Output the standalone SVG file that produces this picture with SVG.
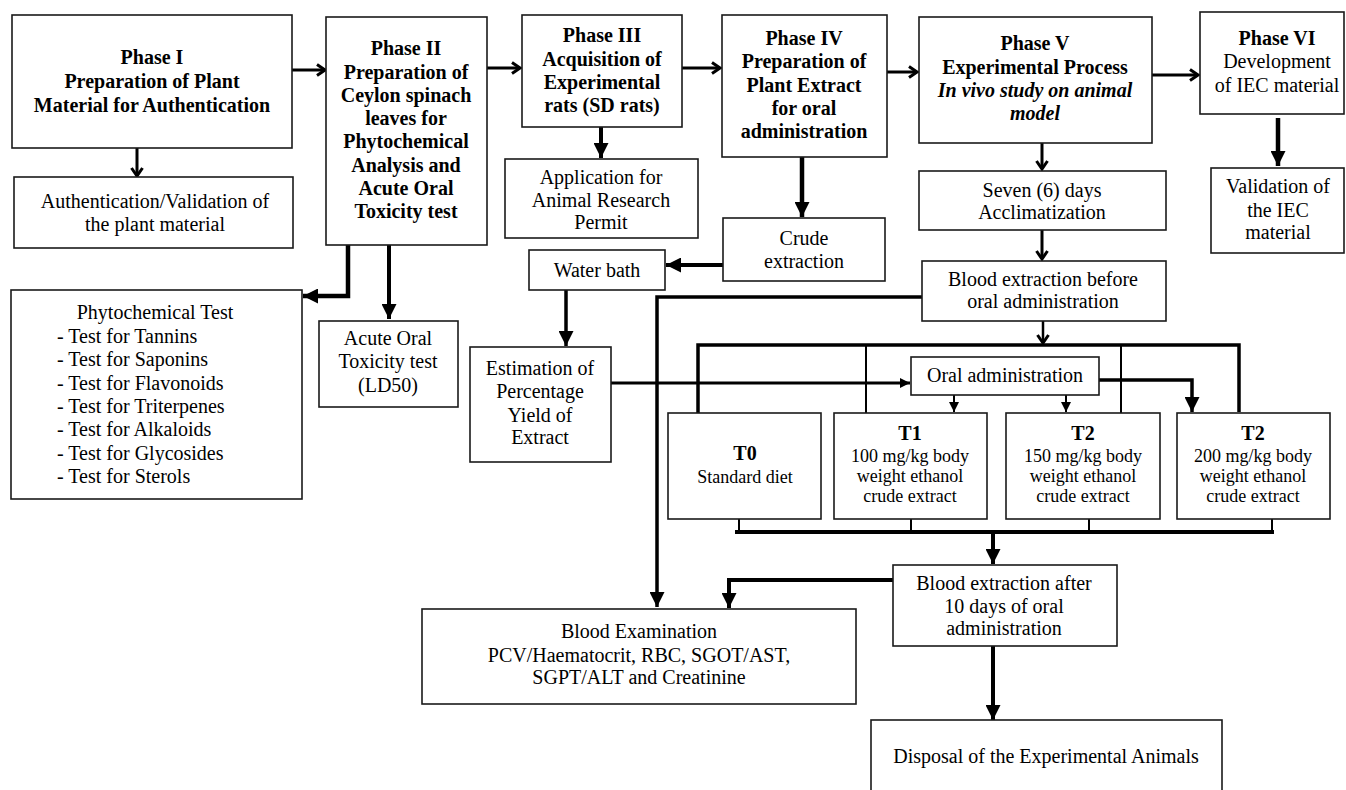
<svg xmlns="http://www.w3.org/2000/svg" width="1346" height="790" viewBox="0 0 1346 790">
<style>
.box{fill:#fff;stroke:#1a1a1a;stroke-width:1.6}
text{font-family:"Liberation Serif","Times New Roman",serif;fill:#000;text-anchor:middle}
.b{font-weight:bold;font-size:20px}
.r{font-size:20px}
.s{font-size:18px}
.bi{font-weight:bold;font-style:italic;font-size:20px}
.c{fill:none;stroke:#000}
.l{text-anchor:start}
</style>
<defs>
<marker id="chev" viewBox="0 0 12 14" refX="10" refY="7" markerWidth="12" markerHeight="14" markerUnits="userSpaceOnUse" orient="auto"><path d="M2,1.5 L10,7 L2,12.5" fill="none" stroke="#000" stroke-width="3"/></marker>
<marker id="tri" viewBox="0 0 10 10" refX="10" refY="5" markerWidth="15" markerHeight="15" markerUnits="userSpaceOnUse" orient="auto"><path d="M0,0 L10,5 L0,10 z" fill="#000"/></marker>
<marker id="tris" viewBox="0 0 10 10" refX="10" refY="5" markerWidth="10" markerHeight="10" markerUnits="userSpaceOnUse" orient="auto"><path d="M0,0 L10,5 L0,10 z" fill="#000"/></marker>
</defs>
<rect width="1346" height="790" fill="#fff"/>

<g id="connectors">
<line class="c" x1="292" y1="70" x2="325" y2="70" stroke-width="3" marker-end="url(#chev)"/>
<line class="c" x1="487" y1="68" x2="520" y2="68" stroke-width="3" marker-end="url(#chev)"/>
<line class="c" x1="682" y1="68" x2="720" y2="68" stroke-width="3" marker-end="url(#chev)"/>
<line class="c" x1="887" y1="72" x2="917" y2="72" stroke-width="3" marker-end="url(#chev)"/>
<line class="c" x1="1152" y1="75" x2="1198" y2="75" stroke-width="3" marker-end="url(#chev)"/>
<line class="c" x1="137" y1="148" x2="137" y2="176" stroke-width="3" marker-end="url(#chev)"/>
<line class="c" x1="601" y1="127" x2="601" y2="158" stroke-width="4" marker-end="url(#tri)"/>
<line class="c" x1="802" y1="157" x2="802" y2="217" stroke-width="4.5" marker-end="url(#tri)"/>
<line class="c" x1="1278" y1="118" x2="1278" y2="166" stroke-width="4.5" marker-end="url(#tri)"/>
<line class="c" x1="1042" y1="143" x2="1042" y2="169" stroke-width="3" marker-end="url(#chev)"/>
<line class="c" x1="1042" y1="230" x2="1042" y2="259" stroke-width="3" marker-end="url(#chev)"/>
<line class="c" x1="723" y1="265" x2="666" y2="265" stroke-width="4" marker-end="url(#tri)"/>
<line class="c" x1="566" y1="290" x2="566" y2="346" stroke-width="3.5" marker-end="url(#tri)"/>
<path class="c" d="M348,245 V296 H303" stroke-width="4.5" marker-end="url(#tri)"/>
<line class="c" x1="389" y1="245" x2="389" y2="319" stroke-width="4" marker-end="url(#tri)"/>
<path class="c" d="M922,297 H657 V607" stroke-width="3.5" marker-end="url(#tri)"/>
<line class="c" x1="1043" y1="321" x2="1043" y2="343" stroke-width="2.5" marker-end="url(#chev)"/>
<path class="c" d="M698,413 V345 H1239 V412" stroke-width="3.5"/>
<line class="c" x1="866" y1="345" x2="866" y2="413" stroke-width="2"/>
<line class="c" x1="1121" y1="345" x2="1121" y2="413" stroke-width="2"/>
<line class="c" x1="611" y1="383" x2="910" y2="383" stroke-width="3" marker-end="url(#tris)"/>
<line class="c" x1="954" y1="395" x2="954" y2="412" stroke-width="2" marker-end="url(#tris)"/>
<line class="c" x1="1066" y1="395" x2="1066" y2="412" stroke-width="2" marker-end="url(#tris)"/>
<path class="c" d="M1099,380 H1192 V412" stroke-width="3.5" marker-end="url(#tri)"/>
<line class="c" x1="739" y1="519" x2="739" y2="532" stroke-width="2"/>
<line class="c" x1="911" y1="519" x2="911" y2="532" stroke-width="2"/>
<line class="c" x1="1089" y1="519" x2="1089" y2="532" stroke-width="2"/>
<line class="c" x1="1272" y1="519" x2="1272" y2="532" stroke-width="2"/>
<line class="c" x1="735" y1="532" x2="1274" y2="532" stroke-width="4"/>
<line class="c" x1="993" y1="532" x2="993" y2="564" stroke-width="4" marker-end="url(#tri)"/>
<path class="c" d="M893,580 H729 V608" stroke-width="4" marker-end="url(#tri)"/>
<line class="c" x1="993" y1="646" x2="993" y2="720" stroke-width="4" marker-end="url(#tri)"/>
</g>

<g id="phase1"><rect class="box" x="12" y="15" width="280" height="133"/>
<text class="b" x="152" y="64">Phase I</text>
<text class="b" x="152" y="88">Preparation of Plant</text>
<text class="b" x="152" y="112">Material for Authentication</text></g>

<g id="auth"><rect class="box" x="14" y="177" width="279" height="71"/>
<text class="r" x="155" y="208">Authentication/Validation of</text>
<text class="r" x="155" y="231">the plant material</text></g>

<g id="phase2"><rect class="box" x="326" y="17" width="161" height="228"/>
<text class="b" x="406" y="55">Phase II</text>
<text class="b" x="406" y="79">Preparation of</text>
<text class="b" x="406" y="102">Ceylon spinach</text>
<text class="b" x="406" y="125">leaves for</text>
<text class="b" x="406" y="148">Phytochemical</text>
<text class="b" x="406" y="172">Analysis and</text>
<text class="b" x="406" y="195">Acute Oral</text>
<text class="b" x="406" y="218">Toxicity test</text></g>

<g id="phase3"><rect class="box" x="522" y="15" width="160" height="112"/>
<text class="b" x="602" y="42">Phase III</text>
<text class="b" x="602" y="66">Acquisition of</text>
<text class="b" x="602" y="89">Experimental</text>
<text class="b" x="602" y="112">rats (SD rats)</text></g>

<g id="permit"><rect class="box" x="505" y="159" width="193" height="79"/>
<text class="r" x="601" y="184">Application for</text>
<text class="r" x="601" y="207">Animal Research</text>
<text class="r" x="601" y="229">Permit</text></g>

<g id="phase4"><rect class="box" x="722" y="15" width="165" height="142"/>
<text class="b" x="804" y="45">Phase IV</text>
<text class="b" x="804" y="68">Preparation of</text>
<text class="b" x="804" y="92">Plant Extract</text>
<text class="b" x="804" y="115">for oral</text>
<text class="b" x="804" y="138">administration</text></g>

<g id="crude"><rect class="box" x="723" y="218" width="162" height="63"/>
<text class="r" x="804" y="245">Crude</text>
<text class="r" x="804" y="268">extraction</text></g>

<g id="waterbath"><rect class="box" x="529" y="250" width="136" height="40"/>
<text class="r" x="597" y="277">Water bath</text></g>

<g id="phase5"><rect class="box" x="919" y="17" width="233" height="126"/>
<text class="b" x="1035" y="50">Phase V</text>
<text class="b" x="1035" y="74">Experimental Process</text>
<text class="bi" x="1035" y="97">In vivo study on animal</text>
<text class="bi" x="1035" y="120">model</text></g>

<g id="phase6"><rect class="box" x="1200" y="12" width="144" height="102"/>
<text class="b" x="1277" y="45">Phase VI</text>
<text class="r" x="1277" y="68">Development</text>
<text class="r" x="1277" y="92">of IEC material</text></g>

<g id="validation"><rect class="box" x="1211" y="168" width="133" height="85"/>
<text class="r" x="1278" y="193">Validation of</text>
<text class="r" x="1278" y="217">the IEC</text>
<text class="r" x="1278" y="239">material</text></g>

<g id="acclim"><rect class="box" x="919" y="171" width="247" height="59"/>
<text class="r" x="1042" y="197">Seven (6) days</text>
<text class="r" x="1042" y="219">Acclimatization</text></g>

<g id="bloodbefore"><rect class="box" x="922" y="261" width="244" height="60"/>
<text class="r" x="1043" y="286">Blood extraction before</text>
<text class="r" x="1043" y="308">oral administration</text></g>

<g id="phyto"><rect class="box" x="11" y="290" width="291" height="209"/>
<text class="r" x="155" y="319">Phytochemical Test</text>
<text class="r l" x="57" y="343">- Test for Tannins</text>
<text class="r l" x="57" y="366">- Test for Saponins</text>
<text class="r l" x="57" y="390">- Test for Flavonoids</text>
<text class="r l" x="57" y="413">- Test for Triterpenes</text>
<text class="r l" x="57" y="436">- Test for Alkaloids</text>
<text class="r l" x="57" y="460">- Test for Glycosides</text>
<text class="r l" x="57" y="483">- Test for Sterols</text></g>

<g id="acute"><rect class="box" x="319" y="321" width="139" height="86"/>
<text class="r" x="388" y="345">Acute Oral</text>
<text class="r" x="388" y="368">Toxicity test</text>
<text class="r" x="388" y="392">(LD50)</text></g>

<g id="estimation"><rect class="box" x="470" y="347" width="141" height="115"/>
<text class="r" x="540" y="375">Estimation of</text>
<text class="r" x="540" y="398">Percentage</text>
<text class="r" x="540" y="422">Yield of</text>
<text class="r" x="540" y="444">Extract</text></g>

<g id="oral"><rect class="box" x="911" y="357" width="188" height="38"/>
<text class="r" x="1005" y="382">Oral administration</text></g>

<g id="t0"><rect class="box" x="668" y="413" width="153" height="106"/>
<text class="b" x="745" y="460">T0</text>
<text class="s" x="745" y="483">Standard diet</text></g>

<g id="t1"><rect class="box" x="834" y="413" width="153" height="106"/>
<text class="b" x="910" y="440">T1</text>
<text class="s" x="910" y="462">100 mg/kg body</text>
<text class="s" x="910" y="482">weight ethanol</text>
<text class="s" x="910" y="502">crude extract</text></g>

<g id="t2"><rect class="box" x="1006" y="413" width="154" height="106"/>
<text class="b" x="1083" y="440">T2</text>
<text class="s" x="1083" y="462">150 mg/kg body</text>
<text class="s" x="1083" y="482">weight ethanol</text>
<text class="s" x="1083" y="502">crude extract</text></g>

<g id="t3"><rect class="box" x="1177" y="413" width="153" height="106"/>
<text class="b" x="1253" y="440">T2</text>
<text class="s" x="1253" y="462">200 mg/kg body</text>
<text class="s" x="1253" y="482">weight ethanol</text>
<text class="s" x="1253" y="502">crude extract</text></g>

<g id="bloodafter"><rect class="box" x="893" y="565" width="224" height="81"/>
<text class="r" x="1004" y="590">Blood extraction after</text>
<text class="r" x="1004" y="613">10 days of oral</text>
<text class="r" x="1004" y="635">administration</text></g>

<g id="bloodexam"><rect class="box" x="422" y="609" width="434" height="95"/>
<text class="r" x="639" y="638">Blood Examination</text>
<text class="r" x="639" y="662">PCV/Haematocrit, RBC, SGOT/AST,</text>
<text class="r" x="639" y="684">SGPT/ALT and Creatinine</text></g>

<g id="disposal"><rect class="box" x="871" y="720" width="351" height="80"/>
<text class="r" x="1046" y="763">Disposal of the Experimental Animals</text></g>
</svg>
